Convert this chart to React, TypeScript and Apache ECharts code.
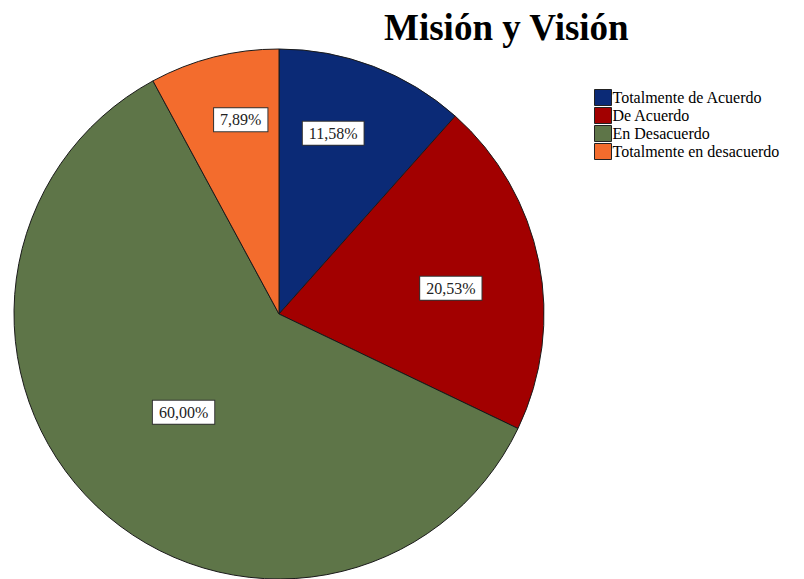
import React, { useEffect, useRef } from "react";
import * as echarts from "echarts";

const categories = [
  "Totalmente de Acuerdo",
  "De Acuerdo",
  "En Desacuerdo",
  "Totalmente en desacuerdo",
];
const percentages = [11.58, 20.53, 60.0, 7.89];
const sliceColors = ["#0B2A76", "#A20000", "#5E7548", "#F36C2D"];
const labelOffsets: [number, number][] = [
  [6, -54],
  [39, 1],
  [-2, 0],
  [-5, -63],
];

export default function App() {
  const ref = useRef<HTMLDivElement>(null);
  useEffect(() => {
    if (!ref.current) return;
    const chart = echarts.init(ref.current, null, { renderer: "svg" });
    chart.setOption({
      animation: false,
      backgroundColor: "#ffffff",
      textStyle: { fontFamily: "Liberation Serif" },
      title: {
        text: "Misión y Visión",
        left: 379,
        top: 4,
        textStyle: {
          fontFamily: "Liberation Serif",
          fontWeight: "bold",
          fontSize: 37,
          color: "#000",
        },
      },
      legend: {
        orient: "vertical",
        left: 594,
        top: 89,
        padding: 0,
        itemGap: 1,
        itemWidth: 17,
        itemHeight: 16,
        icon: "rect",
        data: categories,
        itemStyle: { borderColor: "#222", borderWidth: 1 },
        textStyle: {
          fontFamily: "Liberation Serif",
          fontSize: 16,
          color: "#000",
          padding: [0, 0, 0, -4],
        },
      },
      series: [
        {
          type: "pie",
          center: [279, 314],
          radius: 265,
          startAngle: 90,
          clockwise: true,
          silent: true,
          itemStyle: { borderColor: "#1a1a1a", borderWidth: 1 },
          label: {
            show: true,
            position: "inside",
            formatter: (p: any) =>
              p.value.toFixed(2).replace(".", ",") + "%",
            fontFamily: "Liberation Serif",
            fontSize: 16,
            color: "#222",
            backgroundColor: "#ffffff",
            borderColor: "#333",
            borderWidth: 1,
            padding: [4, 6, 3, 6],
          },
          labelLine: { show: false },
          data: categories.map((name, i) => ({
            name,
            value: percentages[i],
            itemStyle: { color: sliceColors[i] },
            label: { offset: labelOffsets[i] },
          })),
        },
      ],
    });
    return () => chart.dispose();
  }, []);
  return (
    <div
      ref={ref}
      style={{ position: "fixed", left: 0, top: 0, width: 804, height: 579 }}
    />
  );
}
